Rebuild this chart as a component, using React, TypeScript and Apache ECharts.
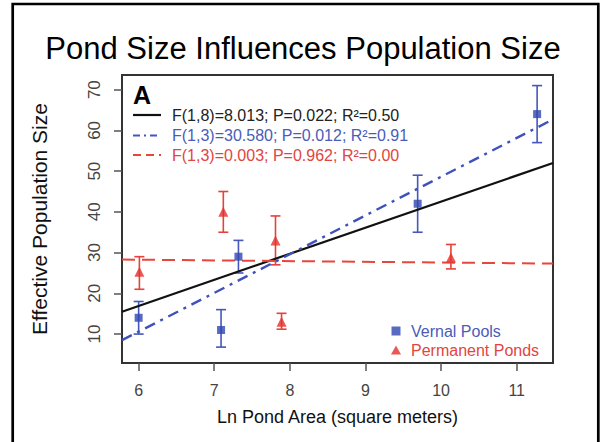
import React, { useEffect, useRef } from "react";
import * as echarts from "echarts";

// ---- data ----
const xTicks = [6, 7, 8, 9, 10, 11];
const yTicks = [10, 20, 30, 40, 50, 60, 70];

const vernalX = [6.0, 7.09, 7.32, 9.69, 11.27];
const vernalY = [14, 11, 29, 42, 64];
const vernalLow = [10, 6.8, 25, 35, 57];
const vernalHigh = [18, 16, 33, 49, 71];

const permX = [6.01, 7.12, 7.81, 7.89, 10.13];
const permY = [25.3, 40, 33, 13, 28.8];
const permLow = [21, 35, 27, 11.2, 26];
const permHigh = [29, 45, 39, 15.1, 32];

const fitX = [5.78, 11.48];
const fitAll = [15.5, 52.0];
const fitVernal = [8.5, 62.7];
const fitPerm = [28.3, 27.3];

const statLabels = [
  "F(1,8)=8.013; P=0.022; R²=0.50",
  "F(1,3)=30.580; P=0.012; R²=0.91",
  "F(1,3)=0.003; P=0.962; R²=0.00",
];

const BLUE = "#2f46b0";
const BLUE_TXT = "#4a5cb8";
const RED = "#e3312c";
const RED_TXT = "#e2453f";
const FONT = "Liberation Sans, Arial, sans-serif";

function errorBars(xs: number[], lo: number[], hi: number[], color: string, name: string) {
  return {
    type: "custom",
    name: name + " error",
    silent: true,
    z: 2,
    data: xs.map((x, i) => [x, lo[i], hi[i]]),
    renderItem: (params: any, api: any) => {
      const p1 = api.coord([api.value(0), api.value(1)]);
      const p2 = api.coord([api.value(0), api.value(2)]);
      const w = 5;
      const st = { stroke: color, lineWidth: 1.6 };
      return {
        type: "group",
        children: [
          { type: "line", shape: { x1: p1[0], y1: p1[1], x2: p2[0], y2: p2[1] }, style: st },
          { type: "line", shape: { x1: p1[0] - w, y1: p1[1], x2: p1[0] + w, y2: p1[1] }, style: st },
          { type: "line", shape: { x1: p2[0] - w, y1: p2[1], x2: p2[0] + w, y2: p2[1] }, style: st },
        ],
      };
    },
  };
}

export default function App() {
  const ref = useRef<HTMLDivElement>(null);
  useEffect(() => {
    if (!ref.current) return;
    const chart = echarts.init(ref.current, undefined, { renderer: "svg" });
    const statColors = ["#222222", BLUE_TXT, RED_TXT];
    const statLineColors = ["#111111", "#4356bd", "#e8453c"];
    const statDash: any[] = [null, [7, 4, 2, 4], [8, 5]];
    const graphics: any[] = [
      {
        type: "rect",
        shape: { x: 12.7, y: 4, width: 585.6, height: 470 },
        style: { fill: "none", stroke: "#000", lineWidth: 2.7 },
        silent: true,
      },
      {
        type: "text",
        x: 303,
        y: 48,
        style: {
          text: "Pond Size Influences Population Size",
          font: `normal 31px ${FONT}`,
          fill: "#000",
          textAlign: "center",
          textVerticalAlign: "middle",
        },
      },
      {
        type: "text",
        x: 133,
        y: 95,
        style: {
          text: "A",
          font: `bold 25px ${FONT}`,
          fill: "#000",
          textAlign: "left",
          textVerticalAlign: "middle",
        },
      },
    ];
    const rowsY = [115, 135.5, 155];
    statLabels.forEach((t, i) => {
      graphics.push({
        type: "line",
        shape: { x1: 133, y1: rowsY[i], x2: 161, y2: rowsY[i] },
        style: { stroke: statLineColors[i], lineWidth: 2.2, lineDash: statDash[i] },
      });
      graphics.push({
        type: "text",
        x: 172,
        y: rowsY[i],
        style: {
          text: t,
          font: `normal 16px ${FONT}`,
          fill: statColors[i],
          textAlign: "left",
          textVerticalAlign: "middle",
        },
      });
    });

    chart.setOption({
      animation: false,
      backgroundColor: "#fff",
      textStyle: { fontFamily: FONT },
      grid: {
        left: 122,
        right: 49,
        top: 75,
        bottom: 79,
        show: true,
        borderColor: "#333",
        borderWidth: 2,
        backgroundColor: "transparent",
      },
      legend: {
        orient: "vertical",
        left: 386,
        top: 318,
        itemWidth: 20,
        itemHeight: 9,
        itemGap: 3,
        symbolKeepAspect: true,
        textStyle: { fontSize: 16, lineHeight: 16, fontFamily: FONT },
        data: [
          { name: "Vernal Pools", icon: "path://M0,0H1V1H0Z", textStyle: { color: BLUE_TXT } },
          { name: "Permanent Ponds", icon: "path://M0.5,0L1,0.9H0Z", textStyle: { color: RED_TXT } },
        ],
      },
      xAxis: {
        type: "value",
        min: 5.78,
        max: 11.48,
        splitLine: { show: false },
        axisLine: { show: false },
        axisTick: { show: true, length: 8, customValues: xTicks, lineStyle: { color: "#555", width: 1.5 } },
        axisLabel: { customValues: xTicks, fontSize: 16, color: "#444", margin: 19, fontFamily: FONT },
        name: "Ln Pond Area (square meters)",
        nameLocation: "middle",
        nameGap: 45,
        nameTextStyle: { fontSize: 18, color: "#111", fontFamily: FONT },
      },
      yAxis: {
        type: "value",
        min: 2.9,
        max: 73.6,
        splitLine: { show: false },
        axisLine: { show: false },
        axisTick: { show: true, length: 8, customValues: yTicks, lineStyle: { color: "#555", width: 1.5 } },
        axisLabel: { customValues: yTicks, fontSize: 17, color: "#444", margin: 19, rotate: 90, fontFamily: FONT },
        name: "Effective Population Size",
        nameLocation: "middle",
        nameGap: 72,
        nameTextStyle: { fontSize: 21, color: "#111", fontFamily: FONT },
      },
      series: [
        {
          type: "line",
          name: "All ponds fit",
          data: fitX.map((x, i) => [x, fitAll[i]]),
          symbol: "none",
          lineStyle: { color: "#111", width: 2.2 },
          z: 3,
        },
        {
          type: "line",
          name: "Vernal fit",
          data: fitX.map((x, i) => [x, fitVernal[i]]),
          symbol: "none",
          lineStyle: { color: "#3f52bc", width: 2.4, type: [11, 6, 3, 6] },
          z: 3,
        },
        {
          type: "line",
          name: "Permanent fit",
          data: fitX.map((x, i) => [x, fitPerm[i]]),
          symbol: "none",
          lineStyle: { color: "#e8453c", width: 2, type: [13, 7] },
          z: 3,
        },
        errorBars(vernalX, vernalLow, vernalHigh, "#4557bb", "Vernal Pools"),
        errorBars(permX, permLow, permHigh, "#e5423b", "Permanent Ponds"),
        {
          type: "scatter",
          name: "Vernal Pools",
          data: vernalX.map((x, i) => [x, vernalY[i]]),
          symbol: "rect",
          symbolSize: 8,
          itemStyle: { color: BLUE },
          z: 4,
        },
        {
          type: "scatter",
          name: "Permanent Ponds",
          data: permX.map((x, i) => [x, permY[i]]),
          symbol: "triangle",
          symbolSize: [10, 10],
          itemStyle: { color: RED },
          z: 4,
        },
      ],
      graphic: graphics,
    });
    return () => chart.dispose();
  }, []);
  return (
    <div
      ref={ref}
      style={{ position: "fixed", left: 0, top: 0, width: 602, height: 442, background: "#fff" }}
    />
  );
}
